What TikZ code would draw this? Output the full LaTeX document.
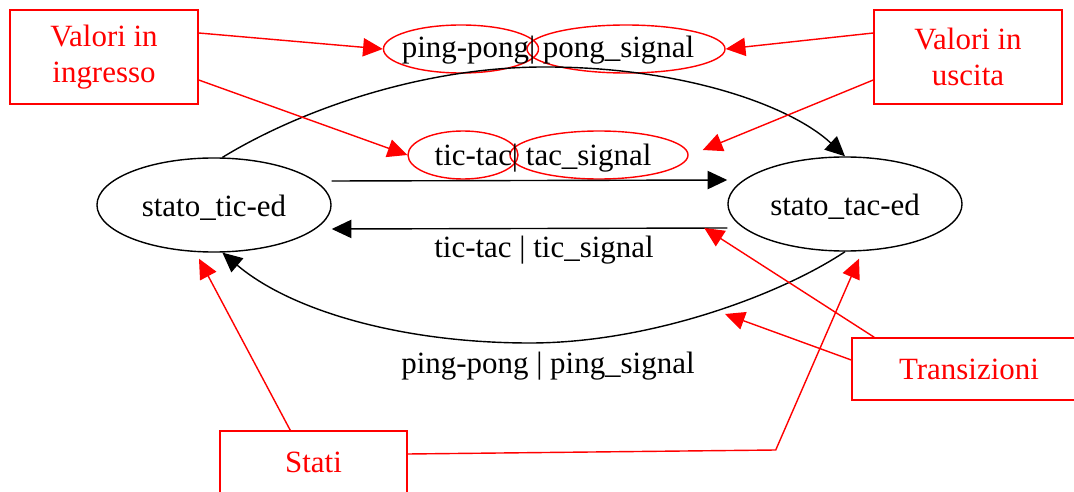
\documentclass[tikz,border=0pt]{standalone}
\usepackage{fontspec}
\setmainfont{Liberation Serif}
\usetikzlibrary{arrows.meta,shapes.geometric,calc}

\begin{document}
\begin{tikzpicture}[x=0.025cm, y=-0.025cm, line width=1pt,
  font=\fontsize{22}{26}\selectfont,
  >={Triangle[length=14pt,width=13pt]},
  stato/.style={draw, ellipse, inner sep=0pt, minimum width=5.85cm, minimum height=2.35cm, text height=17pt, text depth=0pt},
  etich/.style={draw=red, ellipse, inner sep=0pt, minimum height=1.2cm},
  nota/.style={draw=red, text=red, rectangle, inner sep=0pt, align=center},
  freccia/.style={red, ->}]

\path[use as bounding box, clip] (0,0) rectangle (1074,492);

\node (tic) at (214,205) [stato]{stato\_tic-ed};
\node (tac) at (845,204) [stato]{stato\_tac-ed};

\node (ping) at (461,49) [etich, minimum width=3.875cm]{};
\node (pongsig) at (626,49) [etich, minimum width=4.95cm]{};
\node (tic2) at (463,155) [etich, minimum width=2.75cm]{};
\node (tacsig) at (599,155) [etich, minimum width=4.45cm]{};

\node (l1) at (548,58) [anchor=base]{ping-pong| pong\_signal};
\node (l2) at (543,166) [anchor=base]{tic-tac| tac\_signal};
\node (l3) at (544,258) [anchor=base]{tic-tac | tic\_signal};
\node (l4) at (548,373) [anchor=base]{ping-pong | ping\_signal};

\node (ing) at (104,57) [nota, minimum width=4.7cm, minimum height=2.35cm]{Valori in\\ingresso};
\node (usc) at (968,57) [nota, minimum width=4.7cm, minimum height=2.35cm]{Valori in\\uscita};
\node (trans) at (969,369) [nota, minimum width=5.85cm, minimum height=1.55cm]{Transizioni};
\node (stati) at (313.5,462) [nota, minimum width=4.675cm, minimum height=1.55cm]{Stati};

% transizioni
\draw[->] ($(tic.east)+(0,-24)$) -- ($(tac.west)+(0,-24)$);
\draw[->] ($(tac.west)+(0,24)$) -- ($(tic.east)+(0,24)$);
\draw[->] (tic.80) .. controls (300,110) and (420,68) .. (540,67) .. controls (680,66) and (790,105) .. (tac.north);
\draw[->] (tac.south) .. controls (780,295) and (650,343) .. (530,343) .. controls (400,343) and (290,310) .. (tic.-80);

% note
\coordinate (curva) at (725,314);
\draw[freccia] ($(ing.east)+(0,-24)$) -- (ping.west);
\draw[freccia] ($(ing.east)+(0,23)$) -- (tic2.west);
\draw[freccia] ($(usc.west)+(0,-24)$) -- (pongsig.east);
\draw[freccia] ($(usc.west)+(0,23)$) -- ($(tacsig.east)+(14,-5)$);
\draw[freccia] ($(trans.north west)+(23,0)$) -- ($(tac.west)+(-23,24)$);
\draw[freccia] ($(trans.west)+(0,-9)$) -- (curva);
\draw[freccia] ($(stati.north west)+(71,0)$) -- ($(tic.south)+(-15,6)$);
\draw[freccia] ($(stati.east)+(0,-8)$) -- ++(368,-4) -- ($(tac.south)+(14,7)$);

\end{tikzpicture}
\end{document}
